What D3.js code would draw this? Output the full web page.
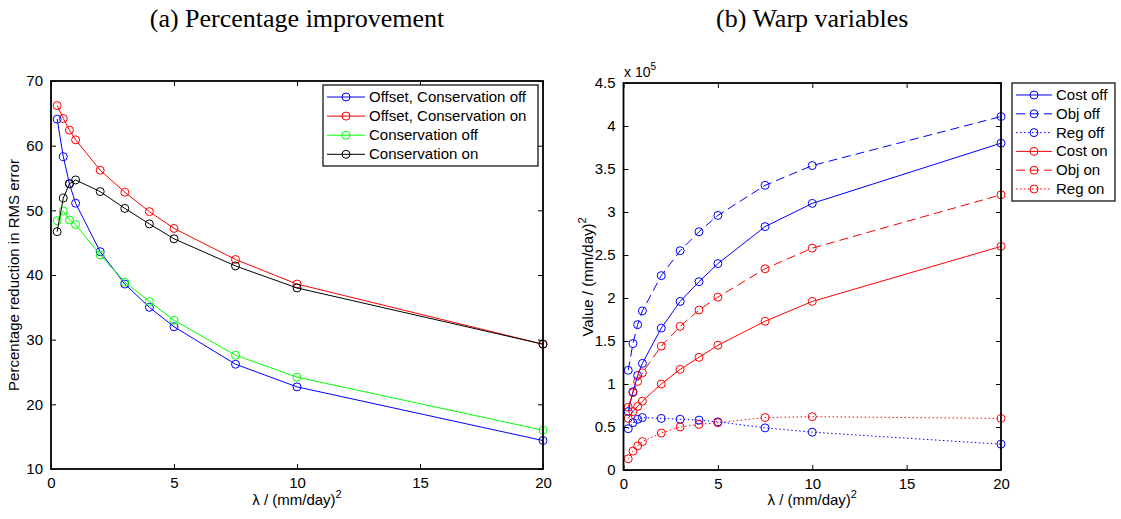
<!DOCTYPE html>
<html><head><meta charset="utf-8">
<script src="https://cdn.jsdelivr.net/npm/d3@7"></script>
<style>body{margin:0;background:#fff}</style>
</head><body><svg id="c" width="1121" height="519" font-family="Liberation Sans, Arial, sans-serif"></svg>
<script>
// ---- data ----
const lambda = [0.25, 0.5, 0.75, 1, 2, 3, 4, 5, 7.5, 10, 20];
// (a) Percentage reduction in RMS error
const offsetConsOff = [64.1, 58.3, 54.1, 51.1, 43.6, 38.6, 35.0, 32.0, 26.2, 22.7, 14.4];
const offsetConsOn  = [66.2, 64.2, 62.4, 60.9, 56.2, 52.8, 49.8, 47.2, 42.4, 38.6, 29.3];
const consOff       = [48.4, 49.9, 48.5, 47.8, 43.1, 38.9, 35.9, 33.0, 27.6, 24.2, 16.0];
const consOn        = [46.7, 51.9, 54.1, 54.7, 52.9, 50.3, 47.9, 45.6, 41.4, 38.0, 29.3];
const seriesA = ["Offset, Conservation off", "Offset, Conservation on", "Conservation off", "Conservation on"];
const ticksAx = [0, 5, 10, 15, 20];
const ticksAy = [10, 20, 30, 40, 50, 60, 70];
// (b) Warp variables (x 10^5)
const costOff = [0.68, 0.91, 1.10, 1.24, 1.65, 1.96, 2.19, 2.40, 2.83, 3.10, 3.80];
const objOff  = [1.16, 1.47, 1.69, 1.85, 2.26, 2.55, 2.77, 2.96, 3.31, 3.54, 4.11];
const regOff  = [0.48, 0.55, 0.59, 0.61, 0.60, 0.59, 0.58, 0.56, 0.49, 0.44, 0.30];
const costOn  = [0.60, 0.68, 0.74, 0.80, 1.00, 1.17, 1.31, 1.45, 1.73, 1.96, 2.60];
const objOn   = [0.73, 0.90, 1.03, 1.13, 1.44, 1.67, 1.86, 2.01, 2.34, 2.58, 3.20];
const regOn   = [0.13, 0.22, 0.28, 0.33, 0.43, 0.50, 0.53, 0.55, 0.61, 0.62, 0.60];
const seriesB = ["Cost off", "Obj off", "Reg off", "Cost on", "Obj on", "Reg on"];
const ticksBx = [0, 5, 10, 15, 20];
const ticksBy = [0, 0.5, 1, 1.5, 2, 2.5, 3, 3.5, 4, 4.5];

const svg = d3.select("#c");
const SANS = "Liberation Sans, Arial, sans-serif";
const SERIF = "Liberation Serif, Times New Roman, serif";

function panel(o) {
  const g = svg.append("g");
  const x = d3.scaleLinear().domain([0, 20]).range([o.x0, o.x1]);
  const y = d3.scaleLinear().domain(o.ydom).range([o.y1, o.y0]);
  const line = d3.line().x((d, i) => x(lambda[i])).y(d => y(d));
  o.series.forEach(s => {
    g.append("path").datum(s.v).attr("d", line).attr("fill", "none")
      .attr("stroke", s.c).attr("stroke-width", 1).attr("stroke-dasharray", s.dash || null);
    g.selectAll(null).data(s.v).enter().append("circle")
      .attr("cx", (d, i) => x(lambda[i])).attr("cy", d => y(d)).attr("r", 4)
      .attr("fill", "none").attr("stroke", s.c).attr("stroke-width", 1);
  });
  const tl = 5;
  const ab = g.append("g").attr("transform", `translate(0,${o.y1})`)
    .call(d3.axisBottom(x).tickValues(o.tx).tickSize(-tl).tickPadding(8).tickFormat(d3.format("")));
  const at = g.append("g").attr("transform", `translate(0,${o.y0})`)
    .call(d3.axisTop(x).tickValues(o.tx).tickSize(-tl).tickFormat(""));
  const al = g.append("g").attr("transform", `translate(${o.x0},0)`)
    .call(d3.axisLeft(y).tickValues(o.ty).tickSize(-tl).tickPadding(8).tickFormat(d3.format("")));
  const ar = g.append("g").attr("transform", `translate(${o.x1},0)`)
    .call(d3.axisRight(y).tickValues(o.ty).tickSize(-tl).tickFormat(""));
  [ab, at, al, ar].forEach(a => {
    a.attr("font-family", SANS).attr("font-size", 15);
    a.select(".domain").remove();
    a.selectAll("line").attr("stroke", "#000").attr("stroke-width", 1);
    a.selectAll("text").attr("fill", "#000");
  });
  g.append("rect").attr("x", o.x0).attr("y", o.y0).attr("width", o.x1 - o.x0).attr("height", o.y1 - o.y0)
    .attr("fill", "none").attr("stroke", "#000").attr("stroke-width", 1.8);
  const xl = g.append("text").attr("x", (o.x0 + o.x1) / 2).attr("y", 505).attr("text-anchor", "middle")
    .attr("font-size", 15);
  xl.append("tspan").text("λ / (mm/day)");
  xl.append("tspan").text("2").attr("font-size", 11).attr("dy", -7);
  svg.append("text").attr("x", (o.x0 + o.x1) / 2).attr("y", 27).attr("text-anchor", "middle")
    .attr("font-family", SERIF).attr("font-size", 26).text(o.title);
  const lg = svg.append("g");
  lg.append("rect").attr("x", o.lx).attr("y", o.ly).attr("width", o.lw).attr("height", o.lh)
    .attr("fill", "#fff").attr("stroke", "#000").attr("stroke-width", 1.2);
  o.series.forEach((s, i) => {
    const yy = o.ly + o.lr0 + i * o.ldy;
    lg.append("line").attr("x1", o.lx + 4).attr("x2", o.lx + 4 + o.llen).attr("y1", yy).attr("y2", yy)
      .attr("stroke", s.c).attr("stroke-width", 1).attr("stroke-dasharray", s.dash || null);
    lg.append("circle").attr("cx", o.lx + 4 + o.llen / 2).attr("cy", yy).attr("r", 4)
      .attr("fill", "none").attr("stroke", s.c);
    lg.append("text").attr("x", o.lx + 8 + o.llen).attr("y", yy + 5).attr("font-size", 15).text(s.n);
  });
  return {x, y, g};
}

const A = panel({
  x0: 51, x1: 543, y0: 81, y1: 469, ydom: [10, 70], tx: ticksAx, ty: ticksAy,
  title: "(a) Percentage improvement",
  series: [
    {n: seriesA[0], v: offsetConsOff, c: "#0000ff"},
    {n: seriesA[1], v: offsetConsOn, c: "#ff0000"},
    {n: seriesA[2], v: consOff, c: "#00ff00"},
    {n: seriesA[3], v: consOn, c: "#000000"}
  ],
  lx: 323, ly: 85, lw: 215, lh: 81, lr0: 12, ldy: 19.1, llen: 38
});
A.g.append("text").attr("transform", "translate(19,275) rotate(-90)").attr("text-anchor", "middle")
  .attr("font-size", 15).text("Percentage reduction in RMS error");

const B = panel({
  x0: 623.5, x1: 1001, y0: 83, y1: 470, ydom: [0, 4.5], tx: ticksBx, ty: ticksBy,
  title: "(b) Warp variables",
  series: [
    {n: seriesB[0], v: costOff, c: "#0000ff"},
    {n: seriesB[1], v: objOff, c: "#0000ff", dash: "9,5"},
    {n: seriesB[2], v: regOff, c: "#0000ff", dash: "1.5,2.5"},
    {n: seriesB[3], v: costOn, c: "#ff0000"},
    {n: seriesB[4], v: objOn, c: "#ff0000", dash: "9,5"},
    {n: seriesB[5], v: regOn, c: "#ff0000", dash: "1.5,2.5"}
  ],
  lx: 1012, ly: 83, lw: 103, lh: 118, lr0: 12, ldy: 18.8, llen: 36
});
const yl = B.g.append("text").attr("transform", "translate(593,277) rotate(-90)").attr("text-anchor", "middle")
  .attr("font-size", 15);
yl.append("tspan").text("Value / (mm/day)");
yl.append("tspan").text("2").attr("font-size", 11).attr("dy", -7);
const ex = svg.append("text").attr("x", 624).attr("y", 77).attr("font-size", 14);
ex.append("tspan").text("x 10");
ex.append("tspan").text("5").attr("font-size", 10).attr("dy", -7);
</script></body></html>
